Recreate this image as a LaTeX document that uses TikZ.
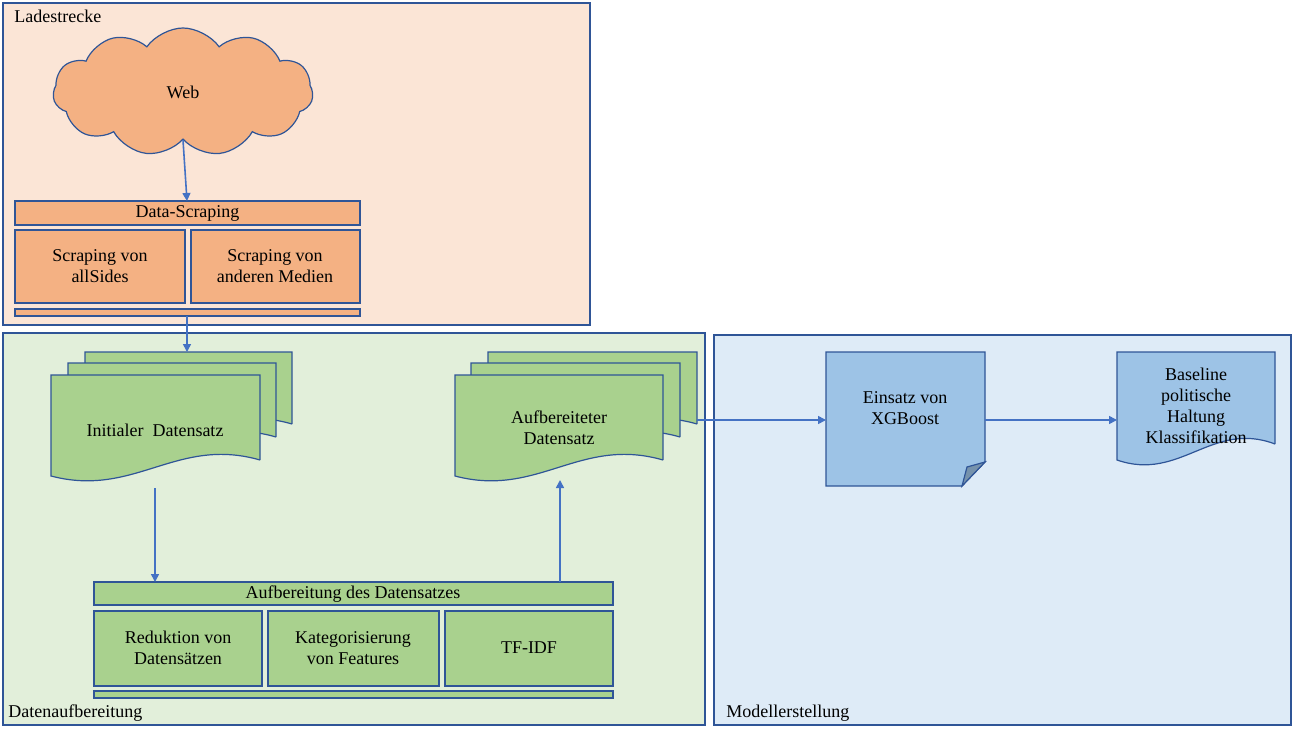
\documentclass[tikz,border=0pt]{standalone}
\usepackage{fontspec}
\setmainfont{Liberation Serif}
\usepackage{xcolor}
\usetikzlibrary{shapes.symbols,arrows.meta}

\definecolor{edge}{HTML}{2F5597}
\definecolor{arrowc}{HTML}{4472C4}
\definecolor{ladebg}{HTML}{FBE5D6}
\definecolor{ladefill}{HTML}{F4B183}
\definecolor{aufbg}{HTML}{E2EFDA}
\definecolor{auffill}{HTML}{A9D18E}
\definecolor{modbg}{HTML}{DEEBF7}
\definecolor{modfill}{HTML}{9DC3E6}

\newcommand{\docpath}[5]{% fill, x1, y1, x2, y2
  \draw[box,fill=#1] (#4,#5-16) -- (#4,#3) -- (#2,#3) -- (#2,#5)
    .. controls (#2*0.6+#4*0.4,#5+22) and (#2*0.4+#4*0.6,#5-40) .. (#4,#5-16);}

\begin{document}
\begin{tikzpicture}[
  x=0.5pt,y=-0.5pt,
  box/.style={draw=edge,line width=0.6pt},
  txt/.style={font=\fontsize{9}{10.5}\selectfont,align=center,inner sep=0},
  arr/.style={draw=arrowc,line width=0.8pt,-{Triangle[length=4pt,width=4pt]}}]

  \useasboundingbox (0,0) rectangle (1295,728);

  % ------------------- frames ----------------------
  \draw[box,fill=ladebg] (3,3) rectangle (590,325);
  \node[txt,anchor=north west] (lade) at (14,10) {Ladestrecke};
  \draw[box,fill=aufbg] (3,333) rectangle (705,725);
  \node[txt,anchor=south west] (aufb) at (8,722) {Datenaufbereitung};
  \draw[box,fill=modbg] (714,335) rectangle (1291,725);
  \node[txt,anchor=south west] (mod) at (726,722) {Modellerstellung};

  % ------------------- Ladestrecke ----------------------
  \node[cloud,cloud puffs=11,cloud puff arc=110,aspect=2.1,box,fill=ladefill,
    minimum width=130pt,minimum height=64pt,txt] (web) at (183,92) {Web};
  \draw[box,fill=ladefill] (15,201) rectangle (360,225);
  \node[txt] (scrap) at (187.5,213) {Data-Scraping};
  \draw[box,fill=ladefill] (15,230) rectangle (185,303);
  \node[txt] (allsides) at (100,266) {Scraping von\\allSides};
  \draw[box,fill=ladefill] (191,230) rectangle (360,303);
  \node[txt] (medien) at (275,266) {Scraping von\\anderen Medien};
  \draw[box,fill=ladefill] (15,309) rectangle (360,316);
  \coordinate (scrapbot) at (187,316);

  % ------------------- Datenaufbereitung ----------------------
  \docpath{auffill}{85}{352}{292}{440}
  \docpath{auffill}{68}{363}{276}{453}
  \docpath{auffill}{51}{375}{260}{476}
  \node[txt] (init) at (155,430) {Initialer~ Datensatz};
  \coordinate (inittop) at (187,352);
  \coordinate (initbot) at (155,488);

  \docpath{auffill}{488}{352}{697}{440}
  \docpath{auffill}{471}{363}{680}{453}
  \docpath{auffill}{455}{375}{663}{476}
  \node[txt] (aufdat) at (559,428) {Aufbereiteter\\Datensatz};
  \coordinate (aufdatbot) at (560,480);
  \coordinate (aufdatright) at (697,420);

  \draw[box,fill=auffill] (94,582) rectangle (613,605);
  \node[txt] (aufber) at (353,594) {Aufbereitung des Datensatzes};
  \draw[box,fill=auffill] (94,611) rectangle (262,686);
  \node[txt] (reduk) at (178,648) {Reduktion von\\Datensätzen};
  \draw[box,fill=auffill] (268,611) rectangle (439,686);
  \node[txt] (kateg) at (353,648) {Kategorisierung\\von Features};
  \draw[box,fill=auffill] (445,611) rectangle (613,686);
  \node[txt] (tfidf) at (529,648) {TF-IDF};
  \draw[box,fill=auffill] (94,691) rectangle (613,698);
  \coordinate (aufbleft) at (155,582);
  \coordinate (aufbright) at (560,582);

  % ------------------- Modellerstellung ----------------------
  \draw[box,fill=modfill] (826,352) -- (985,352) -- (985,462) -- (962,486) -- (826,486) -- cycle;
  \draw[box,fill=modfill!75!black] (962,486) -- (967,467) -- (985,462) -- cycle;
  \node[txt] (xgb) at (905,408) {Einsatz von\\XGBoost};
  \coordinate (xgbleft) at (826,420);
  \coordinate (xgbright) at (985,420);

  \docpath{modfill}{1117}{352}{1275}{460}
  \node[txt] (base) at (1196,406) {Baseline\\politische\\Haltung\\Klassifikation};
  \coordinate (baseleft) at (1117,420);

  % ------------------- connectors ----------------------
  \draw[arr] (web.south) -- (187,201);
  \draw[arr] (scrapbot) -- (inittop);
  \draw[arr] (initbot) -- (aufbleft);
  \draw[arr] (aufbright) -- (aufdatbot);
  \draw[arr] (aufdatright) -- (xgbleft);
  \draw[arr] (xgbright) -- (baseleft);
\end{tikzpicture}
\end{document}
